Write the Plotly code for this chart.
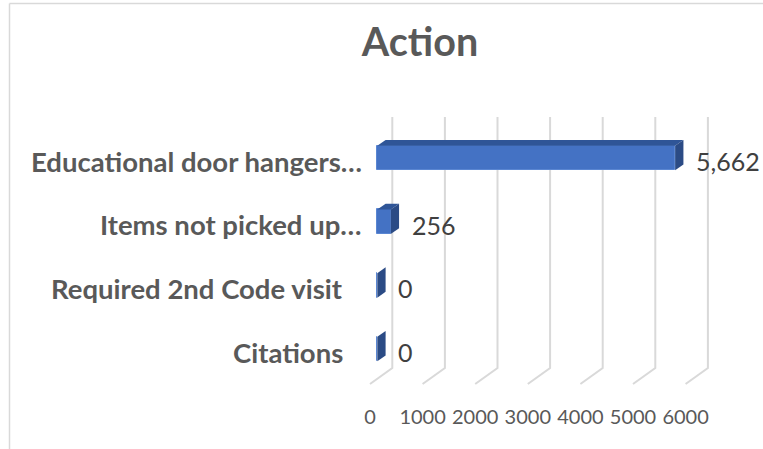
import plotly.graph_objects as go

# ---- data ----
categories = ["Educational door hangers\u2026", "Items not picked up\u2026",
              "Required 2nd Code visit", "Citations"]
values = [5662, 256, 0, 0]
value_labels = ["5,662", "256", "0", "0"]
tick_values = [0, 1000, 2000, 3000, 4000, 5000, 6000]
tick_labels = ["0", "1000", "2000", "3000", "4000", "5000", "6000"]
title_text = "Action"

# ---- layout geometry (pixels) ----
W, H = 763, 449
L, R, T, B = 366, 0, 110, 49
PW, PH = W - L - R, H - T - B
PX_PER_UNIT = 0.0526          # px per data unit on x
PX_PER_CAT = 63.7             # px per category step
ZERO_PX = 377.3               # pixel of value 0 (bar front face)
x0 = -(ZERO_PX - L) / PX_PER_UNIT
x1 = x0 + PW / PX_PER_UNIT

n = len(categories)
y_pos = [n - 1 - i for i in range(n)]
TOP_CAT_PX = 158.0
y_top = (n - 1) + (TOP_CAT_PX - T) / PX_PER_CAT
y_bot = (n - 1) - (T + PH - TOP_CAT_PX) / PX_PER_CAT


def ux(px):  # pixel offset -> x data units
    return px / PX_PER_UNIT


def uy_abs(py):  # absolute pixel y -> y data
    return (n - 1) - (py - TOP_CAT_PX) / PX_PER_CAT


def paper_x(px):
    return (px - L) / PW


def paper_y(py):
    return (T + PH - py) / PH


FRONT = "#4472C4"
SIDE = "#2B4B85"
TOPC = "#2F5597"
GRID = "#D9D9D9"
TXT = "#595959"
LBL = "#404040"
FONT = "Lato, 'Open Sans', sans-serif"

bar_h = 24.5 / PX_PER_CAT
dx = ux(8.3)
dy = 5.8 / PX_PER_CAT

fig = go.Figure()

# back-wall gridlines with floor diagonals (as shapes below the bars)
shapes = []
wall_top = uy_abs(117)
floor_back = uy_abs(368)
floor_front = uy_abs(384)
for t in tick_values:
    xb = t + ux(15)
    xf = t - ux(7.3)
    shapes.append(dict(type="path", xref="x", yref="y", layer="below",
                       path="M %f,%f L %f,%f L %f,%f" % (xb, wall_top, xb, floor_back,
                                                         xf, floor_front),
                       line=dict(color=GRID, width=2)))

# front faces
fig.add_trace(go.Bar(x=values, y=y_pos, orientation="h", width=bar_h,
                     marker=dict(color=FRONT, line=dict(color="#5A86D2", width=1)),
                     hoverinfo="skip", showlegend=False))

# top and side faces
for v, c in zip(values, y_pos):
    lo, hi = c - bar_h / 2, c + bar_h / 2
    if v > 0:
        fig.add_trace(go.Scatter(
            x=[0, v, v + dx, dx, 0], y=[hi, hi, hi + dy, hi + dy, hi],
            fill="toself", fillcolor=TOPC, mode="lines",
            line=dict(width=0, color=TOPC), hoverinfo="skip", showlegend=False))
    fig.add_trace(go.Scatter(
        x=[v, v, v + dx, v + dx, v], y=[lo, hi, hi + dy, lo + dy, lo],
        fill="toself", fillcolor=SIDE, mode="lines",
        line=dict(width=0, color=SIDE), hoverinfo="skip", showlegend=False))

annotations = []
# data labels
for v, c, s in zip(values, y_pos, value_labels):
    annotations.append(dict(x=v, y=c, xref="x", yref="y", text=s,
                            showarrow=False, xanchor="left", yanchor="middle",
                            xshift=21, yshift=-3, borderpad=0, borderwidth=0,
                            font=dict(family=FONT, size=25, color=LBL)))
# category labels
for cat, c in zip(categories, y_pos):
    right_px = 364 if cat.endswith("\u2026") else 345
    annotations.append(dict(x=paper_x(right_px), y=c, xref="paper", yref="y",
                            text="<b>%s</b>" % cat, showarrow=False,
                            xanchor="right", yanchor="middle", yshift=-3,
                            font=dict(family=FONT, size=27.5, color=TXT)))

# outer chart border (top and left edges visible)
shapes += [
    dict(type="line", xref="paper", yref="paper",
         x0=paper_x(9.5), y0=paper_y(3.5), x1=paper_x(W + 5), y1=paper_y(3.5),
         line=dict(color=GRID, width=1.5)),
    dict(type="line", xref="paper", yref="paper",
         x0=paper_x(9.5), y0=paper_y(3.5), x1=paper_x(9.5), y1=paper_y(H + 5),
         line=dict(color=GRID, width=1.5)),
]

fig.update_layout(
    width=W, height=H,
    margin=dict(l=L, r=R, t=T, b=B, pad=0),
    paper_bgcolor="white", plot_bgcolor="white",
    title=dict(text="<b>%s</b>" % title_text, xref="container", yref="container",
               x=420 / W, y=1 - 42 / H, xanchor="center", yanchor="middle",
               font=dict(family=FONT, size=39.5, color=TXT)),
    xaxis=dict(range=[x0, x1], showgrid=False, zeroline=False, showline=False,
               tickvals=[t - ux(7.3) for t in tick_values], ticktext=tick_labels,
               ticks="", tickfont=dict(family=FONT, size=20, color=TXT),
               ticklabelstandoff=3, fixedrange=True),
    yaxis=dict(range=[y_bot, y_top], visible=False, fixedrange=True),
    annotations=annotations,
    shapes=shapes,
    bargap=0,
)

fig.write_html("out.html", config={"displayModeBar": False},
               post_script="document.body.style.margin='0';"
                           "document.body.style.overflow='hidden';")
